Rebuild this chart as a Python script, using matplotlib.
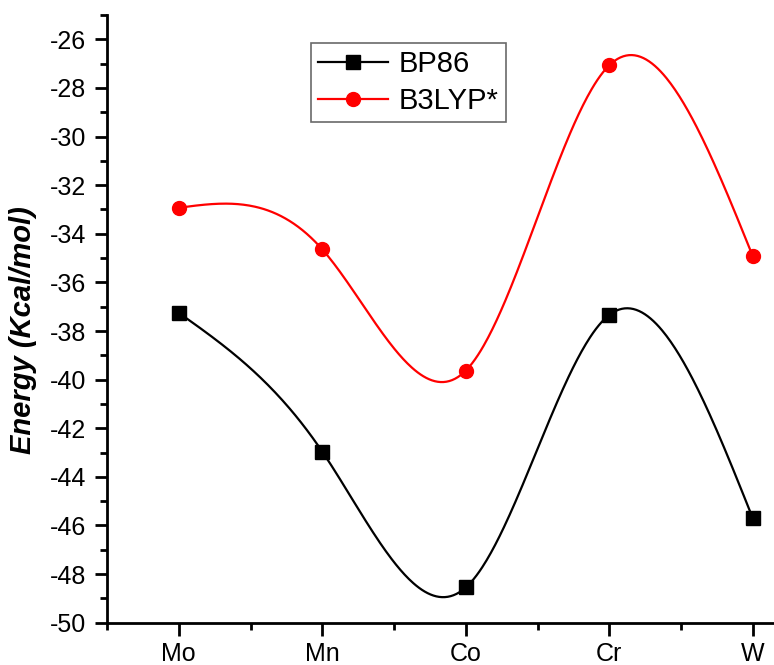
import numpy as np
import matplotlib
matplotlib.use("Agg")
import matplotlib.pyplot as plt
from matplotlib.ticker import MultipleLocator, FixedLocator

categories = ["Mo", "Mn", "Co", "Cr", "W"]
bp86 = [-37.25, -42.96, -48.55, -37.34, -45.7]
b3lyp = [-32.93, -34.64, -39.63, -27.07, -34.92]

plt.rcParams['font.family'] = ['Liberation Sans', 'DejaVu Sans']
plt.rcParams['axes.unicode_minus'] = False


def natural_spline(x, y, n=400):
    x = np.asarray(x, float)
    y = np.asarray(y, float)
    k = len(x)
    h = np.diff(x)
    A = np.zeros((k, k))
    b = np.zeros(k)
    A[0, 0] = 1
    A[-1, -1] = 1
    for i in range(1, k - 1):
        A[i, i - 1] = h[i - 1]
        A[i, i] = 2 * (h[i - 1] + h[i])
        A[i, i + 1] = h[i]
        b[i] = 6 * ((y[i + 1] - y[i]) / h[i] - (y[i] - y[i - 1]) / h[i - 1])
    M = np.linalg.solve(A, b)
    xs = np.linspace(x[0], x[-1], n)
    ys = np.empty_like(xs)
    for j, xv in enumerate(xs):
        i = min(np.searchsorted(x, xv, side='right') - 1, k - 2)
        t1 = x[i + 1] - xv
        t0 = xv - x[i]
        ys[j] = (M[i] * t1 ** 3 / (6 * h[i]) + M[i + 1] * t0 ** 3 / (6 * h[i])
                 + (y[i] / h[i] - M[i] * h[i] / 6) * t1
                 + (y[i + 1] / h[i] - M[i + 1] * h[i] / 6) * t0)
    return xs, ys


fig = plt.figure(figsize=(7.74, 6.65), dpi=100)
ax = fig.add_axes([107 / 774, 42.3 / 665, 717.5 / 774, 607.7 / 665])

x = np.arange(1, len(categories) + 1)

xs, ys = natural_spline(x, bp86)
ax.plot(xs, ys, color='black', lw=1.6, zorder=2)
xs, ys = natural_spline(x, b3lyp)
ax.plot(xs, ys, color='red', lw=1.6, zorder=2)
ax.plot(x, bp86, ls='none', marker='s', ms=9.5, color='black', zorder=3)
ax.plot(x, b3lyp, ls='none', marker='o', ms=10, color='red', zorder=3)

# legend proxies
h1, = ax.plot([], [], color='black', lw=1.6, marker='s', ms=9.5, label='BP86')
h2, = ax.plot([], [], color='red', lw=1.6, marker='o', ms=10, label='B3LYP*')
leg = ax.legend(handles=[h1, h2], loc='upper left',
                bbox_to_anchor=((311 - 107) / 717.5, (622.7 - 43) / 607.7),
                frameon=True, fancybox=False, fontsize=21, handlelength=2.4,
                handletextpad=0.35, borderpad=0.25, labelspacing=0.3,
                borderaxespad=0)
leg.get_frame().set_edgecolor('#444444')
leg.get_frame().set_linewidth(1.2)

ax.set_xlim(0.5, 5.5)
ax.set_ylim(-50, -25)
ax.set_xticks(x)
ax.set_xticklabels(categories)
ax.xaxis.set_minor_locator(FixedLocator(np.arange(0.5, 6, 1.0)))
ax.yaxis.set_major_locator(FixedLocator(np.arange(-50, -25, 2)))
ax.yaxis.set_minor_locator(MultipleLocator(1))

ax.spines['top'].set_visible(False)
ax.spines['right'].set_visible(False)
ax.spines['left'].set_linewidth(2)
ax.spines['bottom'].set_linewidth(2)

ax.tick_params(axis='both', which='major', direction='out', length=9, width=2,
               labelsize=18, pad=6)
ax.tick_params(axis='both', which='minor', direction='out', length=5, width=2)
ax.tick_params(axis='x', which='major', pad=5)

ax.set_ylabel('Energy (Kcal/mol)', fontsize=21, fontweight='bold', style='italic')
ax.yaxis.set_label_coords((37 - 107) / 717.5, (622.7 - 330) / 607.7)

fig.savefig('out.png', dpi=100)
